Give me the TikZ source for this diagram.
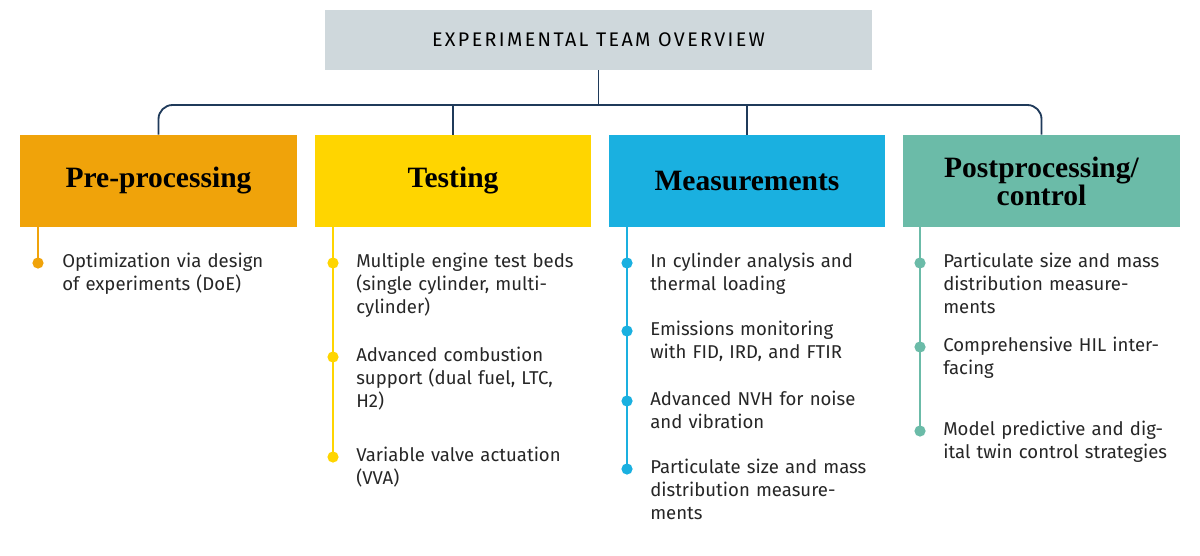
\documentclass[tikz,border=0pt]{standalone}
\usepackage{fontspec}
\setmainfont{Liberation Serif}
\setsansfont{Fira Sans}
\usetikzlibrary{positioning}
\definecolor{titlegray}{HTML}{CFD8DC}
\definecolor{navy}{HTML}{1F3A5A}
\definecolor{cpre}{HTML}{F0A30A}
\definecolor{ctest}{HTML}{FFD500}
\definecolor{cmeas}{HTML}{1AB0E0}
\definecolor{cpost}{HTML}{6BBBA8}
\tikzset{
  phase/.style={minimum width=6.9cm,minimum height=2.3cm,inner sep=0pt,align=center,
    font=\fontsize{21}{22}\selectfont\bfseries},
  item/.style={anchor=north west,text width=5.6cm,align=left,inner sep=0pt,
    font=\sffamily\fontsize{13.2}{16.3}\selectfont,text=black!85},
  dot/.style={circle,fill=#1,inner sep=0pt,minimum size=0.28cm}
}
\begin{document}
\begin{tikzpicture}[x=0.025cm,y=-0.025cm]
    \useasboundingbox (0,0) rectangle (1200,555);
    \node[fill=titlegray,minimum width=13.675cm,minimum height=1.5cm,inner sep=0pt,
      font=\sffamily\fontsize{14}{16}\selectfont\addfontfeatures{LetterSpace=12}] (title) at (598.5,40) {EXPERIMENTAL TEAM OVERVIEW};
    \node[phase,fill=cpre] (pre) at (158.5,181) {Pre-processing};
    \node[phase,fill=ctest] (test) at (453,181) {Testing};
    \node[phase,fill=cmeas] (meas) at (747,181) {Measurements};
    \node[phase,fill=cpost] (post) at (1041.5,181) {Postprocessing/\\[-2pt]control};
    % connectors
    \coordinate (hub) at (598.5,105);
    \draw[navy,line width=1.3pt,rounded corners=10pt] (pre.north) |- (hub) -| (post.north);
    \draw[navy,line width=1.3pt] (title.south) -- (hub);
    \draw[navy,line width=1.3pt] (test.north) -- (test.north |- hub);
    \draw[navy,line width=1.3pt] (meas.north) -- (meas.north |- hub);
    % pre-processing
    \coordinate (p1) at (38,263);
    \draw[cpre,line width=1.2pt] (38,227) -- (p1);
    \node[dot=cpre] (pd1) at (p1) {};
    \node[item] (pt1) at (62,253) {Optimization via design of experiments (DoE)};
    % testing
    \coordinate (t1) at (333,263); \coordinate (t2) at (333,357); \coordinate (t3) at (333,457);
    \draw[ctest,line width=1.2pt] (333,227) -- (t3);
    \foreach \c in {t1,t2,t3} \node[dot=ctest] at (\c) {};
    \node[item] (tt1) at (356,253) {Multiple engine test beds (single cylinder, multi-cylinder)};
    \node[item] (tt2) at (356,347) {Advanced combustion support (dual fuel, LTC, H2)};
    \node[item] (tt3) at (356,447) {Variable valve actuation (VVA)};
    % measurements
    \coordinate (m1) at (627,263); \coordinate (m2) at (627,331);
    \coordinate (m3) at (627,401); \coordinate (m4) at (627,469);
    \draw[cmeas,line width=1.2pt] (627,227) -- (m4);
    \foreach \c in {m1,m2,m3,m4} \node[dot=cmeas] at (\c) {};
    \node[item] (mt1) at (650,253) {In cylinder analysis and thermal loading};
    \node[item] (mt2) at (650,321) {Emissions monitoring with FID, IRD, and FTIR};
    \node[item] (mt3) at (650,391) {Advanced NVH for noise and vibration};
    \node[item] (mt4) at (650,459) {Particulate size and mass distribution measurements};
    % postprocessing
    \coordinate (c1) at (920,263); \coordinate (c2) at (920,347); \coordinate (c3) at (920,431);
    \draw[cpost,line width=1.2pt] (920,227) -- (c3);
    \foreach \c in {c1,c2,c3} \node[dot=cpost] at (\c) {};
    \node[item] (ct1) at (943,253) {Particulate size and mass distribution measurements};
    \node[item] (ct2) at (943,337) {Comprehensive HIL interfacing};
    \node[item] (ct3) at (943,421) {Model predictive and digital twin control strategies};
\end{tikzpicture}
\end{document}
